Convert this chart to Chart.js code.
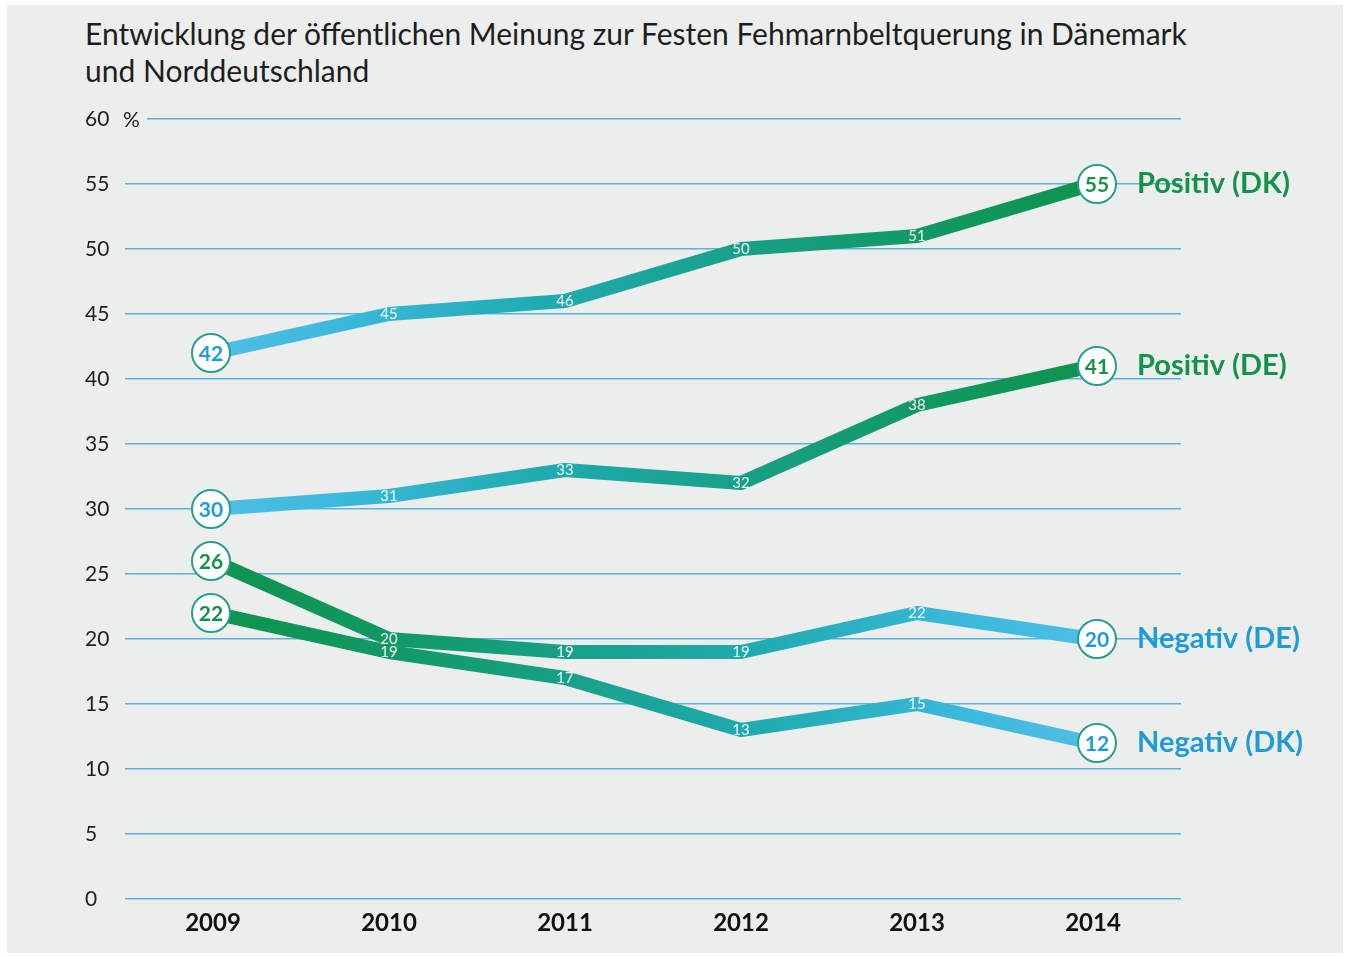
<!DOCTYPE html>
<html>
<head>
  <title>Fehmarnbeltquerung Meinung</title>
  <script src="https://cdn.jsdelivr.net/npm/chart.js"></script>
  <style>
    body { margin: 0; background: #fff; font-family: Lato, sans-serif; }
    #wrap { position: absolute; left: 7px; top: 5px; width: 1336px; height: 948px; background: #eceeed; }
    #title { position: absolute; left: 85px; top: 15px; font-size: 30px; line-height: 37px; color: #1e1e1e; }
    canvas { position: absolute; left: 0; top: 0; }
  </style>
</head>
<body>
  <div id="wrap"></div>
  <div id="title">Entwicklung der öffentlichen Meinung zur Festen Fehmarnbeltquerung in Dänemark<br>und Norddeutschland</div>
  <canvas id="chart" width="1350" height="958"></canvas>

  <script>
    const years = ["2009", "2010", "2011", "2012", "2013", "2014"];
    const positivDK = [42, 45, 46, 50, 51, 55];
    const positivDE = [30, 31, 33, 32, 38, 41];
    const negativDE = [26, 20, 19, 19, 22, 20];
    const negativDK = [22, 19, 17, 13, 15, 12];

    const blue = "#1f9bd7";
    const green = "#14924a";
    const bg = "#eceeed";

    function grad(chart, rising) {
      const a = chart.chartArea;
      if (!a) return blue;
      const g = chart.ctx.createLinearGradient(a.left, 0, a.right, 0);
      const stops = ["#5dc1ea", "#3cb9dc", "#1fabb0", "#179f84", "#10975b", "#0a9146"];
      stops.forEach((c, i) => {
        g.addColorStop(i / (stops.length - 1), rising ? c : stops[stops.length - 1 - i]);
      });
      return g;
    }

    function line(label, data, rising, color) {
      return {
        label: label,
        data: data,
        borderColor: ctx => grad(ctx.chart, rising),
        borderWidth: 14,
        borderJoinStyle: "round",
        pointRadius: 0,
        tension: 0,
        endColor: color,
        startColor: rising ? blue : green
      };
    }

    const labelPlugin = {
      id: "labels",
      beforeDatasetsDraw(chart) {
        const c = chart.ctx;
        const y = chart.scales.y.getPixelForValue(60);
        c.save();
        c.fillStyle = bg;
        c.fillRect(chart.chartArea.left - 2, y - 3, 24, 6);
        c.fillStyle = "#1e1e1e";
        c.font = "21px Lato";
        c.textAlign = "left";
        c.textBaseline = "middle";
        c.fillText("%", chart.chartArea.left - 2, y + 1);
        c.restore();
      },
      afterDatasetsDraw(chart) {
        const c = chart.ctx;
        c.save();
        c.textAlign = "center";
        c.textBaseline = "middle";
        chart.data.datasets.forEach((ds, di) => {
          const pts = chart.getDatasetMeta(di).data;
          pts.forEach((p, i) => {
            const v = ds.data[i];
            if (i === 0 || i === pts.length - 1) {
              const x = i === 0 ? p.x - 2 : p.x + 4;
              c.beginPath();
              c.arc(x, p.y, 19, 0, Math.PI * 2);
              c.fillStyle = "#ffffff";
              c.fill();
              c.lineWidth = 2;
              c.strokeStyle = "#2a9e8e";
              c.stroke();
              c.fillStyle = i === 0 ? ds.startColor : ds.endColor;
              c.font = "bold 21px Lato";
              c.fillText(v, x, p.y + 1);
            } else {
              c.fillStyle = "rgba(255,255,255,0.92)";
              c.font = "15px Lato";
              c.fillText(v, p.x, p.y);
            }
          });
          const last = pts[pts.length - 1];
          c.textAlign = "left";
          c.fillStyle = ds.endColor;
          c.font = "bold 29px Lato";
          c.fillText(ds.label, last.x + 44, last.y);
          c.textAlign = "center";
        });
        c.restore();
      }
    };

    new Chart(document.getElementById("chart"), {
      type: "line",
      data: {
        labels: years,
        datasets: [
          line("Positiv (DK)", positivDK, true, green),
          line("Positiv (DE)", positivDE, true, green),
          line("Negativ (DE)", negativDE, false, blue),
          line("Negativ (DK)", negativDK, false, blue)
        ]
      },
      options: {
        responsive: false,
        animation: false,
        layout: { padding: { left: 85, top: 119, right: 169, bottom: 19 } },
        plugins: { legend: { display: false }, tooltip: { enabled: false } },
        scales: {
          x: {
            offset: true,
            grid: { display: false },
            border: { display: false },
            ticks: { color: "#111", font: { family: "Lato", size: 24, weight: "bold" }, padding: 2 },
            afterFit: s => { s.height = 40; }
          },
          y: {
            min: 0,
            max: 60,
            border: { display: false },
            grid: { color: "#5ab3dd", lineWidth: 1.5, drawTicks: false },
            ticks: {
              stepSize: 5,
              crossAlign: "far",
              color: "#1e1e1e",
              font: { family: "Lato", size: 21 }
            },
            afterFit: s => { s.width = 40; }
          }
        }
      },
      plugins: [labelPlugin]
    });
  </script>
</body>
</html>
